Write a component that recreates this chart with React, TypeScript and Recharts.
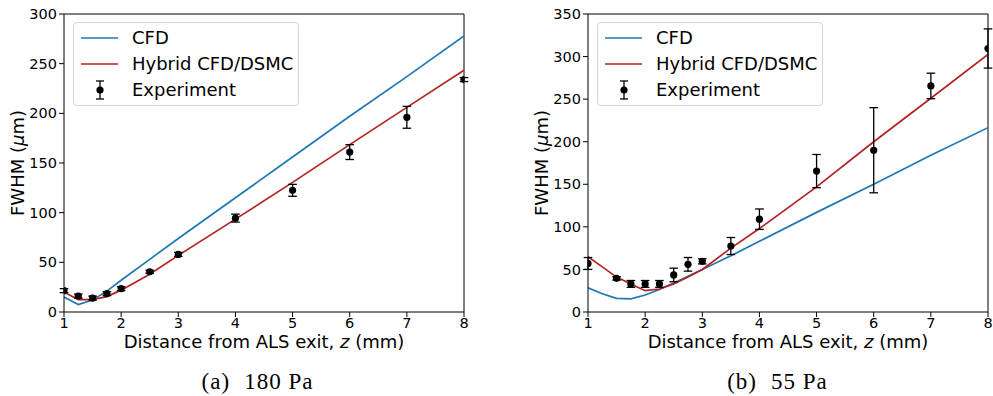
import React from "react";
import {
  ComposedChart,
  Line,
  Scatter,
  ErrorBar,
  XAxis,
  YAxis,
  Legend,
  ReferenceLine,
} from "recharts";

const FONT = "DejaVu Sans";
const BLUE = "#1f77b4";
const RED = "#b22222";

// shared ticks
const xTicks = [1, 2, 3, 4, 5, 6, 7, 8];
const yTicks180 = [0, 50, 100, 150, 200, 250, 300];
const yTicks55 = [0, 50, 100, 150, 200, 250, 300, 350];

// (a) 180 Pa
const modelX180 = [1, 1.25, 1.5, 1.75, 2, 2.5, 3, 4, 5, 6, 7, 8];
const cfd180 = [15, 7.5, 12, 21, 32, 53, 74, 115, 156, 197, 237, 278];
const hybrid180 = [20, 12.5, 12.5, 15.5, 22, 38, 57, 93.5, 130.5, 168.5, 206, 243.5];
const expX180 = [1, 1.25, 1.5, 1.75, 2, 2.5, 3, 4, 5, 6, 7, 8];
const exp180 = [21.5, 16, 14, 18.5, 23.5, 40.5, 58, 94.5, 122.5, 161, 196, 234];
const expErr180 = [2, 2, 2, 2, 2, 1.5, 2, 4, 6, 7.5, 11, 2];

// (b) 55 Pa
const modelX55 = [1, 1.25, 1.5, 1.75, 2, 2.25, 2.5, 2.75, 3, 3.5, 4, 5, 6, 7, 8];
const cfd55 = [28.5, 21.5, 16, 15.5, 20, 26.5, 34, 42, 50, 66, 83, 117, 150, 184, 216.5];
const hybrid55 = [65, 53, 41, 33, 25, 27, 33, 41, 50, 75, 98, 147, 200, 251, 302.5];
const expX55 = [1, 1.5, 1.75, 2, 2.25, 2.5, 2.75, 3, 3.5, 4, 5, 6, 7, 8];
const exp55 = [57, 39.5, 33, 33, 33, 43.5, 56, 59.5, 77.5, 109, 165.5, 190, 265.5, 309.5];
const expErr55 = [7, 2, 4, 4, 4, 8, 8, 3, 10, 12, 19.5, 50, 15, 23];

const toPoints = (xs: number[], ys: number[]) =>
  xs.map((x, i) => ({ x, y: ys[i] }));
const toErrPoints = (xs: number[], ys: number[], errs: number[]) =>
  xs.map((x, i) => ({ x, y: ys[i], err: errs[i] }));

const Dot = (props: any) => (
  <circle cx={props.cx} cy={props.cy} r={3.6} fill="#000" />
);

// legend drawn like the matplotlib one
const LegendBox = () => {
  const rows = [
    { name: "CFD", kind: "line", color: BLUE, cy: 15 },
    { name: "Hybrid CFD/DSMC", kind: "line", color: RED, cy: 41 },
    { name: "Experiment", kind: "err", color: "#000", cy: 67 },
  ];
  return (
    <div
      style={{
        position: "relative",
        width: 226,
        height: 84,
        boxSizing: "border-box",
        border: "1px solid #d5d5d5",
        borderRadius: 4,
        background: "rgba(255,255,255,0.8)",
        fontFamily: FONT,
        fontSize: 18,
        color: "#000",
      }}
    >
      {rows.map((r) => (
        <div key={r.name}>
          <svg
            width={50}
            height={24}
            style={{ position: "absolute", left: 0, top: r.cy - 12 }}
          >
            {r.kind === "line" ? (
              <line x1={7} x2={44} y1={12} y2={12} stroke={r.color} strokeWidth={1.7} />
            ) : (
              <g stroke="#000" strokeWidth={1.3}>
                <line x1={26} x2={26} y1={3} y2={21} />
                <line x1={22} x2={30} y1={3} y2={3} />
                <line x1={22} x2={30} y1={21} y2={21} />
                <circle cx={26} cy={12} r={3.6} fill="#000" stroke="none" />
              </g>
            )}
          </svg>
          <span
            style={{
              position: "absolute",
              left: 58,
              top: r.cy - 11,
              lineHeight: "22px",
              whiteSpace: "nowrap",
            }}
          >
            {r.name}
          </span>
        </div>
      ))}
    </div>
  );
};

type PanelProps = {
  width: number;
  yWidth: number;
  marginRight: number;
  yMax: number;
  yTicks: number[];
  modelX: number[];
  cfd: number[];
  hybrid: number[];
  expX: number[];
  exp: number[];
  expErr: number[];
  legendLeft: number;
  yLabelX: number;
  xLabelX: number;
  captionX: number;
  tag: string;
  pressure: string;
};

function Panel(p: PanelProps) {
  const plotTop = 14;
  const plotBottom = 312;
  const midY = (plotTop + plotBottom) / 2;

  const xLabel = () => (
    <g>
      <text
        x={p.xLabelX}
        y={348}
        textAnchor="middle"
        fontFamily={FONT}
        fontSize={18}
        fill="#000"
      >
        Distance from ALS exit, <tspan fontStyle="italic">z</tspan> (mm)
      </text>
      <text
        x={p.captionX}
        y={389}
        textAnchor="middle"
        fontFamily="Liberation Serif"
        fontSize={23}
        letterSpacing={1}
        fill="#000"
      >
        <tspan>{p.tag}</tspan>
        <tspan dx={14}>{p.pressure}</tspan>
      </text>
    </g>
  );

  const yLabel = () => (
    <text
      x={p.yLabelX}
      y={midY}
      transform={`rotate(-90, ${p.yLabelX}, ${midY})`}
      textAnchor="middle"
      fontFamily={FONT}
      fontSize={18}
      fill="#000"
    >
      FWHM (<tspan fontStyle="italic">μ</tspan>m)
    </text>
  );

  const tickStyle = { fontFamily: FONT, fontSize: 14.5, fill: "#000" };

  return (
    <ComposedChart
      width={p.width}
      height={396}
      margin={{ top: plotTop, right: p.marginRight, left: 0, bottom: 0 }}
    >
      <XAxis
        dataKey="x"
        type="number"
        domain={[1, 8]}
        ticks={xTicks}
        allowDataOverflow
        height={396 - plotBottom}
        tickSize={5}
        tickMargin={1}
        stroke="#000"
        tick={tickStyle}
        label={xLabel}
      />
      <YAxis
        type="number"
        domain={[0, p.yMax]}
        ticks={p.yTicks}
        allowDataOverflow
        width={p.yWidth}
        tickSize={5}
        tickMargin={2}
        stroke="#000"
        tick={tickStyle}
        label={yLabel}
      />
      {/* top and right spines */}
      <ReferenceLine y={p.yMax} stroke="#000" strokeWidth={1} />
      <ReferenceLine x={8} stroke="#000" strokeWidth={1} />
      <Legend
        layout="vertical"
        align="center"
        verticalAlign="middle"
        wrapperStyle={{ left: p.legendLeft, top: 22, width: 226, height: 84 }}
        content={<LegendBox />}
      />
      <Line
        data={toPoints(p.modelX, p.cfd)}
        dataKey="y"
        type="linear"
        stroke={BLUE}
        strokeWidth={1.7}
        dot={false}
        activeDot={false}
        isAnimationActive={false}
        name="CFD"
      />
      <Line
        data={toPoints(p.modelX, p.hybrid)}
        dataKey="y"
        type="linear"
        stroke={RED}
        strokeWidth={1.7}
        dot={false}
        activeDot={false}
        isAnimationActive={false}
        name="Hybrid CFD/DSMC"
      />
      <Scatter
        data={toErrPoints(p.expX, p.exp, p.expErr)}
        dataKey="y"
        shape={Dot}
        isAnimationActive={false}
        name="Experiment"
      >
        <ErrorBar
          dataKey="err"
          direction="y"
          width={4.3}
          stroke="#000"
          strokeWidth={1.3}
          isAnimationActive={false}
        />
      </Scatter>
    </ComposedChart>
  );
}

export default function App() {
  return (
    <div
      style={{
        position: "absolute",
        left: 0,
        top: 0,
        width: 993,
        height: 396,
        background: "#fff",
        overflow: "hidden",
      }}
    >
      <div style={{ position: "absolute", left: 0, top: 0 }}>
        <Panel
          width={496}
          yWidth={64}
          marginRight={32}
          yMax={300}
          yTicks={yTicks180}
          modelX={modelX180}
          cfd={cfd180}
          hybrid={hybrid180}
          expX={expX180}
          exp={exp180}
          expErr={expErr180}
          legendLeft={73}
          yLabelX={23.5}
          xLabelX={264}
          captionX={257.5}
          tag="(a)"
          pressure="180 Pa"
        />
      </div>
      <div style={{ position: "absolute", left: 500, top: 0 }}>
        <Panel
          width={493}
          yWidth={88}
          marginRight={5}
          yMax={350}
          yTicks={yTicks55}
          modelX={modelX55}
          cfd={cfd55}
          hybrid={hybrid55}
          expX={expX55}
          exp={exp55}
          expErr={expErr55}
          legendLeft={97}
          yLabelX={48}
          xLabelX={288}
          captionX={277.5}
          tag="(b)"
          pressure="55 Pa"
        />
      </div>
    </div>
  );
}
